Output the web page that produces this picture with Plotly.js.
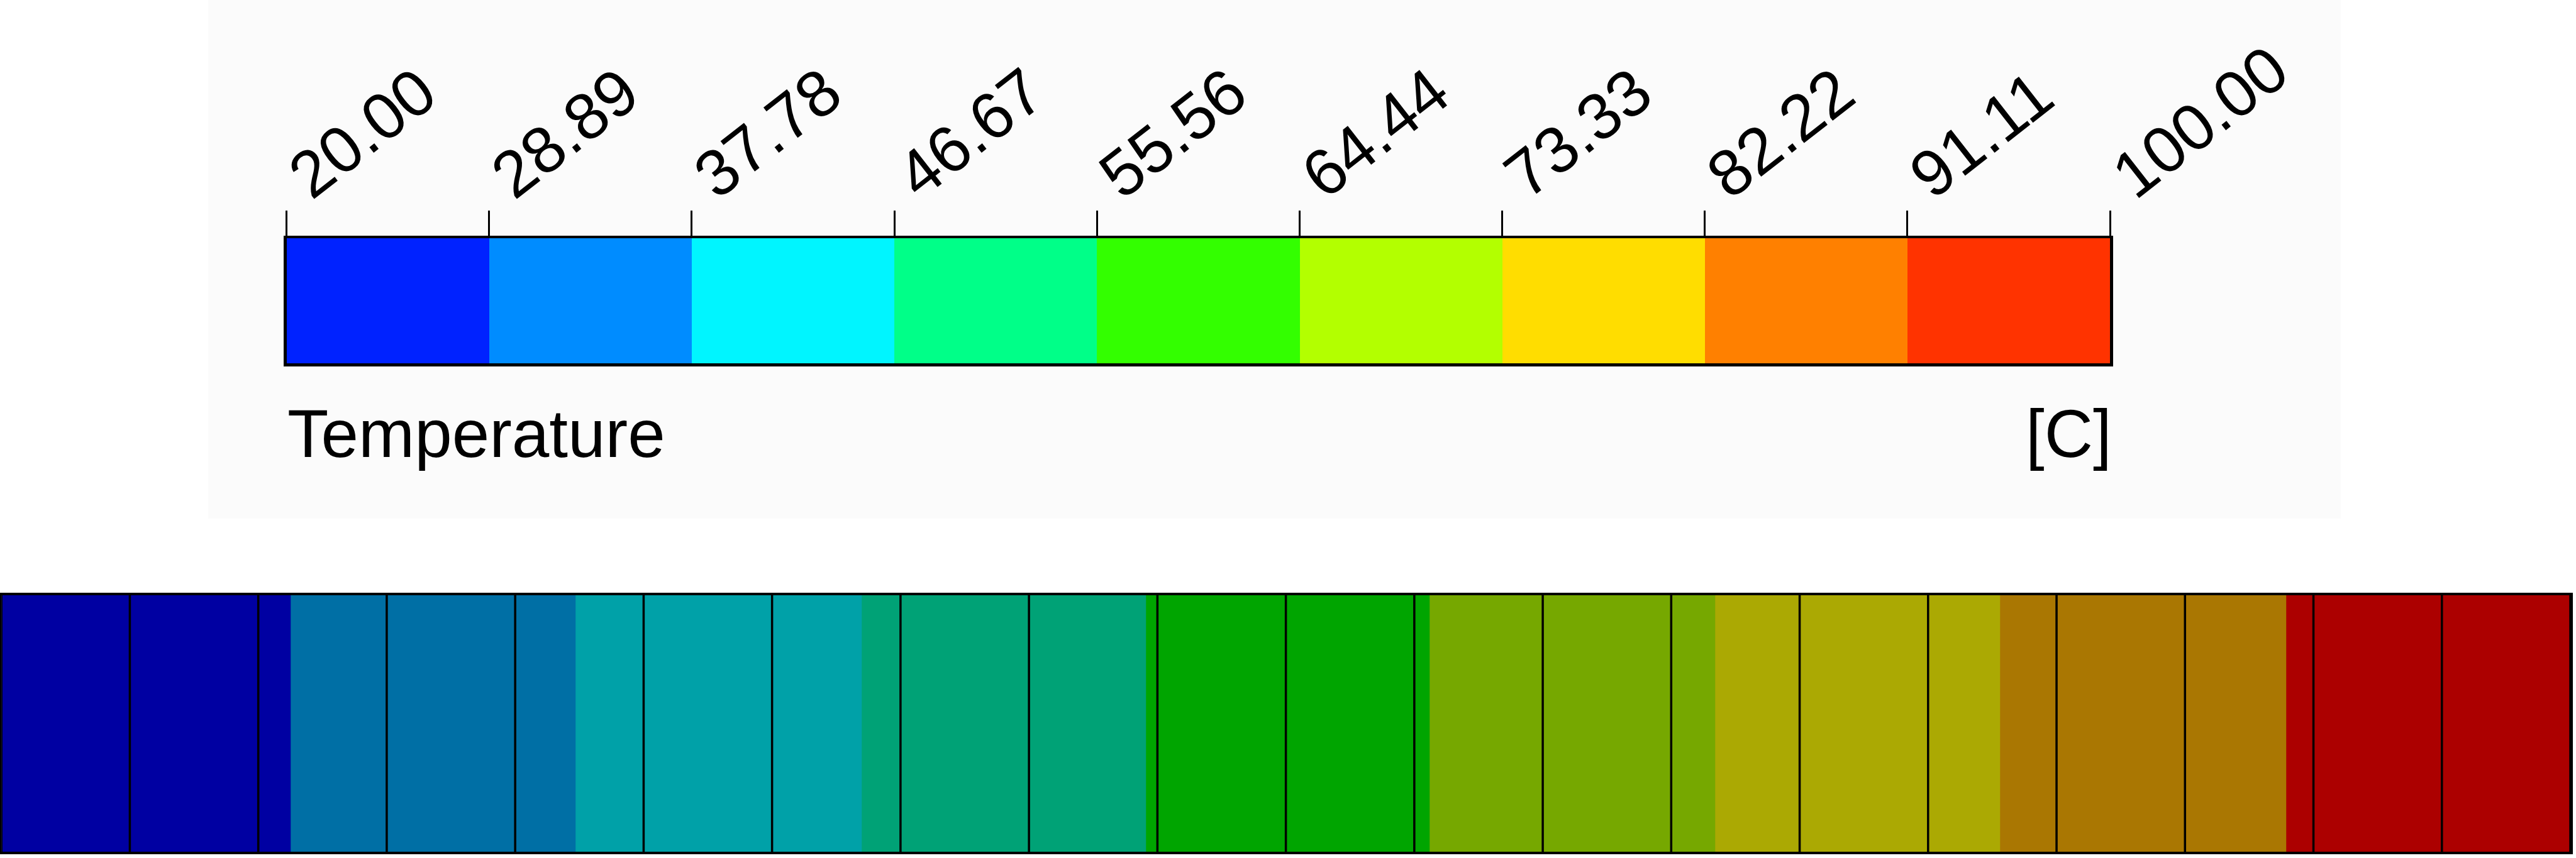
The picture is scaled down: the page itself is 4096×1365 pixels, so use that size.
<!DOCTYPE html>
<html>
<head>
<meta charset="utf-8">
<script src="https://cdn.plot.ly/plotly-3.0.1.min.js"></script>
<style>html,body{margin:0;padding:0;background:#fff;}#chart{width:4096px;height:1365px;}</style>
</head>
<body>
<div id="chart"></div>
<script>
// ---- Legend (colour key) data ----
const legendTicks = [20.00, 28.89, 37.78, 46.67, 55.56, 64.44, 73.33, 82.22, 91.11, 100.00];
const legendTickText = ["20.00", "28.89", "37.78", "46.67", "55.56", "64.44", "73.33", "82.22", "91.11", "100.00"];
const legendColors = ["#0022FF", "#008CFF", "#00F5FF", "#00FF88", "#33FF00", "#B3FF00", "#FFDD00", "#FF8000", "#FF3300"];
const legendTitle = "Temperature";
const legendUnit = "[C]";

// ---- Bar (result strip) data: positions in element units along the bar ----
const cellEdges = [0, 1, 2, 3, 4, 5, 6, 7, 8, 9, 10, 11, 12, 13, 14, 15, 16, 17, 18, 19, 20];
const bandEdges = [0, 2.25, 4.47, 6.70, 8.91, 11.12, 13.34, 15.56, 17.79, 20];
const bandLevel = [0, 1, 2, 3, 4, 5, 6, 7, 8];
const stripColors = ["#0000A2", "#006FA5", "#00A1A8", "#00A276", "#00A500", "#76A800", "#ABA903", "#AA7702", "#AC0000"];

const W = 4096, H = 1365;
function px(x) { return x / W; }
function py(y) { return 1 - y / H; }

function scale(colors) {
  const n = colors.length - 1;
  return colors.map((c, i) => [i / n, c]);
}

const legendTrace = {
  type: 'heatmap',
  x: legendTicks,
  y: [0, 1],
  z: [bandLevel],
  zmin: 0, zmax: bandLevel.length - 1,
  colorscale: scale(legendColors),
  showscale: false,
  zsmooth: false,
  hoverinfo: 'skip',
  xaxis: 'x', yaxis: 'y'
};

const stripTrace = {
  type: 'heatmap',
  x: bandEdges,
  y: [0, 1],
  z: [bandLevel],
  zmin: 0, zmax: bandLevel.length - 1,
  colorscale: scale(stripColors),
  showscale: false,
  zsmooth: false,
  hoverinfo: 'skip',
  xaxis: 'x2', yaxis: 'y2'
};

const meshX = [], meshY = [];
cellEdges.forEach(e => { meshX.push(e, e, null); meshY.push(0, 1, null); });
const meshTrace = {
  type: 'scatter', mode: 'lines',
  x: meshX, y: meshY,
  line: {color: '#000', width: 3.5},
  hoverinfo: 'skip', showlegend: false,
  xaxis: 'x2', yaxis: 'y2'
};

const font = "'Liberation Sans', Arial, sans-serif";

const layout = {
  width: W, height: H,
  margin: {l: 0, r: 0, t: 0, b: 0, pad: 0},
  paper_bgcolor: '#ffffff',
  plot_bgcolor: 'rgba(0,0,0,0)',
  showlegend: false,
  font: {family: font, color: '#000'},
  xaxis: {
    domain: [px(455.5), px(3355)],
    range: [legendTicks[0], legendTicks[legendTicks.length - 1]],
    side: 'top', anchor: 'y',
    tickmode: 'array', tickvals: legendTicks, ticktext: legendTickText,
    ticks: 'outside', ticklen: 40, tickwidth: 3, tickcolor: '#000',
    tickangle: -38,
    ticklabelstandoff: -38,
    ticklabelshift: 8,
    tickfont: {family: font, size: 104, color: '#000'},
    showline: true, mirror: true, linecolor: '#000', linewidth: 4.5,
    showgrid: false, zeroline: false, fixedrange: true
  },
  yaxis: {
    domain: [py(578), py(379)],
    range: [0, 1], anchor: 'x',
    showticklabels: false, ticks: '',
    showline: true, mirror: true, linecolor: '#000', linewidth: 4.5,
    showgrid: false, zeroline: false, fixedrange: true
  },
  xaxis2: {
    domain: [px(2.2), px(4087)],
    range: [cellEdges[0], cellEdges[cellEdges.length - 1]],
    anchor: 'y2',
    showticklabels: false, ticks: '',
    showline: true, mirror: true, linecolor: '#000', linewidth: 4,
    showgrid: false, zeroline: false, fixedrange: true
  },
  yaxis2: {
    domain: [py(1355), py(946.5)],
    range: [0, 1], anchor: 'x2',
    showticklabels: false, ticks: '',
    showline: true, mirror: true, linecolor: '#000', linewidth: 4,
    showgrid: false, zeroline: false, fixedrange: true
  },
  shapes: [{
    type: 'rect', xref: 'paper', yref: 'paper', layer: 'below',
    x0: px(331), x1: px(3722), y0: py(825), y1: py(0),
    fillcolor: '#FBFBFB', line: {width: 0}
  }],
  annotations: [
    {text: legendTitle, xref: 'paper', yref: 'paper', x: px(455), y: py(690),
     xanchor: 'left', yanchor: 'middle', showarrow: false,
     font: {family: font, size: 107, color: '#000'}},
    {text: legendUnit, xref: 'paper', yref: 'paper', x: px(3360), y: py(690),
     xanchor: 'right', yanchor: 'middle', showarrow: false,
     font: {family: font, size: 107, color: '#000'}}
  ]
};

Plotly.newPlot('chart', [legendTrace, stripTrace, meshTrace], layout, {staticPlot: true, displayModeBar: false});
</script>
</body>
</html>
